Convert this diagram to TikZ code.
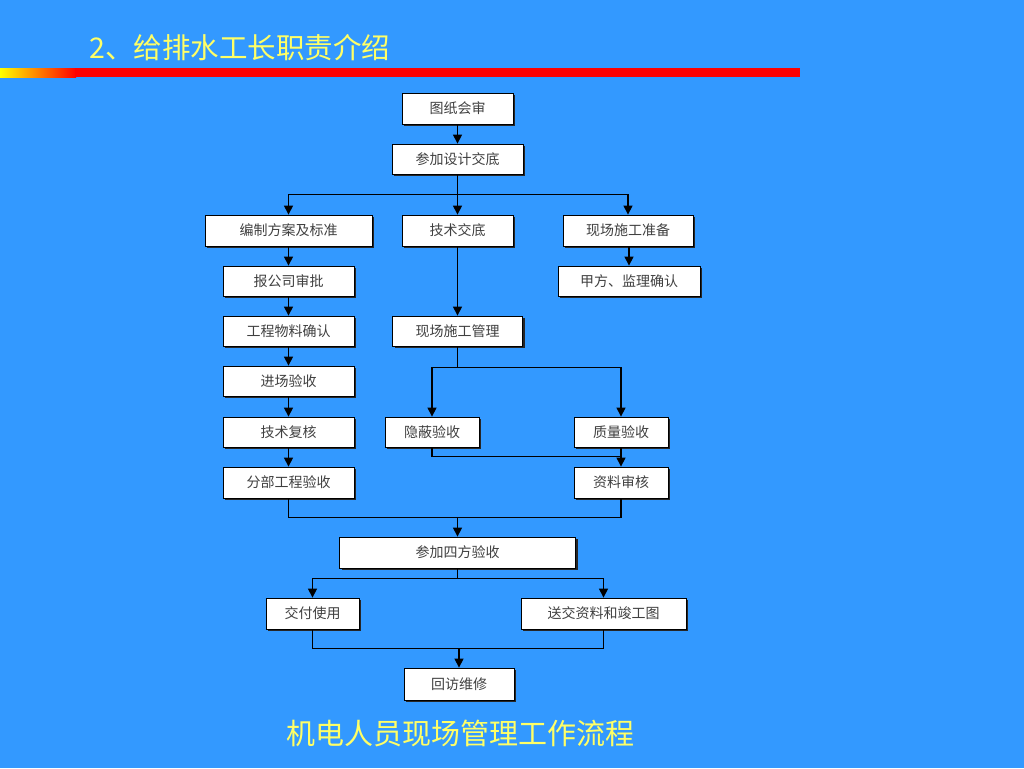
\documentclass[tikz,border=0pt]{standalone}
\usepackage{fontspec}
\setmainfont{Noto Sans CJK SC}
\usepackage{tikz}
\usetikzlibrary{arrows.meta,positioning,calc,shadows}
\definecolor{bgblue}{HTML}{3399FF}
\definecolor{titleyellow}{HTML}{FFFF66}
\definecolor{boxtext}{HTML}{404040}

\begin{document}
\begin{tikzpicture}[x=1pt,y=-1pt,
  box/.style={draw=black,line width=0.8pt,fill=white,text=boxtext,font=\fontsize{14}{16}\selectfont,
    inner sep=0pt,drop shadow={shadow xshift=2pt,shadow yshift=-2pt,fill=black!85,opacity=1}},
  flow/.style={line width=1.2pt,-{Triangle[length=9pt,width=9pt]}},
  link/.style={line width=1.2pt}]
  \fill[bgblue] (0,0) rectangle (1024,768);
  \useasboundingbox (0,0) rectangle (1024,768);
  % heading and bar
  \node[anchor=west,text=titleyellow,font=\fontsize{28.5}{30}\selectfont] (title) at (86,48) {2、给排水工长职责介绍};
  \shade[left color=yellow,right color=red] (0,68) rectangle (76,77);
  \fill[red] (75,68) rectangle (800,77);
  % boxes
  \node[box,minimum width=111pt,minimum height=31pt] (tuzhi) at (457.5,108.5) {图纸会审};
  \node[box,minimum width=131pt,minimum height=30pt] (sheji) at (457.5,159) {参加设计交底};
  \node[box,minimum width=167pt,minimum height=31pt] (bianzhi) at (288.5,230.5) {编制方案及标准};
  \node[box,minimum width=111pt,minimum height=31pt] (jishu) at (457.5,230.5) {技术交底};
  \node[box,minimum width=130pt,minimum height=31pt] (zhunbei) at (628,230.5) {现场施工准备};
  \node[box,minimum width=131pt,minimum height=30pt] (baopi) at (288.5,281) {报公司审批};
  \node[box,minimum width=142pt,minimum height=30pt] (queren) at (629,281) {甲方、监理确认};
  \node[box,minimum width=131pt,minimum height=30pt] (wuliao) at (288.5,331) {工程物料确认};
  \node[box,minimum width=130pt,minimum height=30pt] (guanli) at (457.5,331) {现场施工管理};
  \node[box,minimum width=131pt,minimum height=30pt] (jinchang) at (288.5,381) {进场验收};
  \node[box,minimum width=131pt,minimum height=30pt] (fuhe) at (288.5,432) {技术复核};
  \node[box,minimum width=94pt,minimum height=30pt] (yinbi) at (432,432) {隐蔽验收};
  \node[box,minimum width=94pt,minimum height=30pt] (zhiliang) at (621,432) {质量验收};
  \node[box,minimum width=131pt,minimum height=31pt] (fenbu) at (288.5,482.5) {分部工程验收};
  \node[box,minimum width=94pt,minimum height=31pt] (shenhe) at (621,482.5) {资料审核};
  \node[box,minimum width=236pt,minimum height=31pt] (sifang) at (457.5,552.5) {参加四方验收};
  \node[box,minimum width=93pt,minimum height=31pt] (jiaofu) at (312.5,613.5) {交付使用};
  \node[box,minimum width=165pt,minimum height=31pt] (songjiao) at (603.5,613.5) {送交资料和竣工图};
  \node[box,minimum width=110pt,minimum height=32pt] (huifang) at (459,684) {回访维修};
  % join points
  \coordinate (m1) at ($(sifang.north)+(0,-19)$);
  \coordinate (m2) at ($(huifang.north)+(0,-19)$);
  \coordinate (m3) at ($(shenhe.north)+(0,-10)$);
  % connectors
  \draw[flow] (tuzhi) -- (sheji);
  \draw[flow] (sheji.south) -- (jishu.north);
  \draw[flow] (sheji.south) -- ++(0,20) -| (bianzhi.north);
  \draw[flow] (sheji.south) -- ++(0,20) -| (zhunbei.north);
  \draw[flow] (bianzhi) -- (baopi);
  \draw[flow] (zhunbei.south -| queren.north) -- (queren.north);
  \draw[flow] (baopi) -- (wuliao);
  \draw[flow] (wuliao) -- (jinchang);
  \draw[flow] (jinchang) -- (fuhe);
  \draw[flow] (fuhe) -- (fenbu);
  \draw[flow] (jishu.south) -- (guanli.north);
  \draw[flow] (guanli.south) -- ++(0,21) -| (yinbi.north);
  \draw[flow] (guanli.south) -- ++(0,21) -| (zhiliang.north);
  \draw[flow] (zhiliang) -- (shenhe);
  \draw[link] (yinbi.south) |- (m3);
  \draw[link] (fenbu.south) |- (m1) -| (shenhe.south);
  \draw[flow] (m1) -- (sifang.north);
  \draw[flow] (sifang.south) -- ++(0,10) -| (jiaofu.north);
  \draw[flow] (sifang.south) -- ++(0,10) -| (songjiao.north);
  \draw[link] (jiaofu.south) |- (m2) -| (songjiao.south);
  \draw[flow] (m2) -- (huifang.north);
  % caption
  \node[text=titleyellow,font=\fontsize{29}{31}\selectfont] (caption) at (460,733) {机电人员现场管理工作流程};
\end{tikzpicture}
\end{document}
